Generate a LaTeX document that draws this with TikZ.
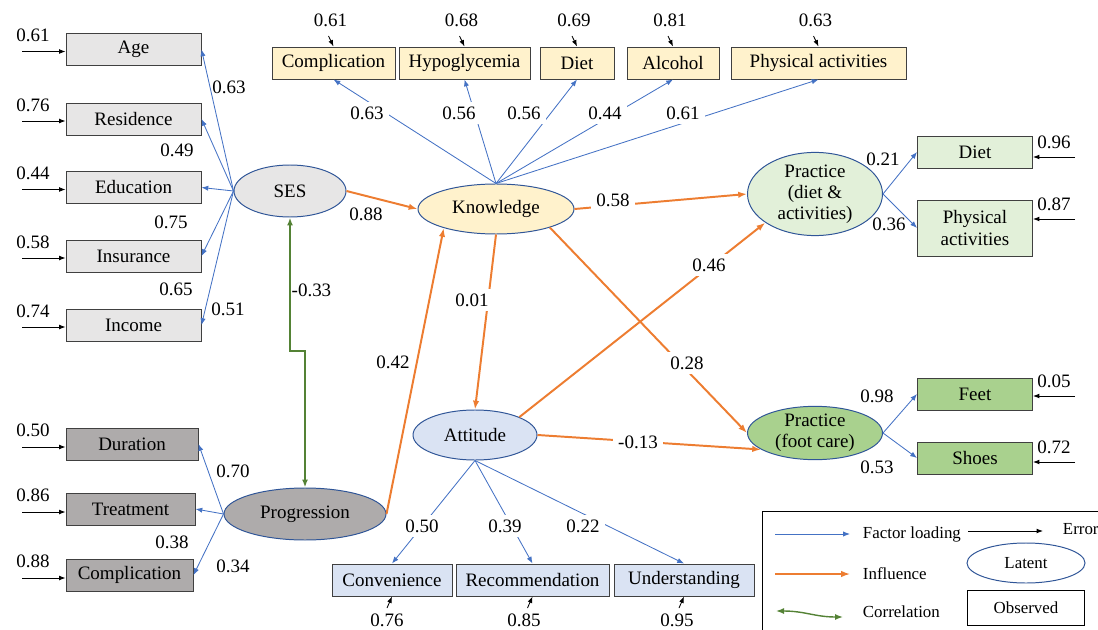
\documentclass[tikz,border=0pt]{standalone}
\usepackage{fontspec}
\setmainfont{Liberation Serif}
\usetikzlibrary{arrows.meta,positioning,shapes.geometric}

\definecolor{sesgray}{HTML}{E7E6E6}
\definecolor{proggray}{HTML}{AEABAB}
\definecolor{knowyellow}{HTML}{FFF2CC}
\definecolor{attblue}{HTML}{DAE3F3}
\definecolor{pdgreen}{HTML}{E2F0D9}
\definecolor{pfgreen}{HTML}{A9D18E}
\definecolor{loadblue}{HTML}{4472C4}
\definecolor{inflorange}{HTML}{ED7D31}
\definecolor{corrgreen}{HTML}{548235}
\definecolor{rimblue}{HTML}{2F5597}
\definecolor{boxrim}{HTML}{404040}

\begin{document}
\begin{tikzpicture}[x=0.025cm, y=-0.025cm,
    font=\fontsize{13.5}{15}\selectfont,
    obs/.style={draw=boxrim, line width=0.7pt, rectangle, inner sep=0pt, align=center, minimum height=0.8cm},
    lat/.style={draw=rimblue, line width=0.7pt, ellipse, inner sep=0pt, align=center},
    load/.style={draw=loadblue, line width=0.6pt, -{Latex[length=1.7mm,width=1.3mm]}},
    infl/.style={draw=inflorange, line width=1.4pt, -{Latex[length=2.2mm,width=1.6mm]}},
    corr/.style={draw=corrgreen, line width=1.4pt, {Latex[length=2mm,width=1.5mm]}-{Latex[length=2mm,width=1.5mm]}},
    err/.style={draw=black, line width=0.6pt, -{Latex[length=1.6mm,width=1.2mm]}},
    coef/.style={inner sep=1pt},
    cut/.style={fill=white, inner sep=3.5pt},
    legend/.style={font=\fontsize{12}{14}\selectfont}]
    % Page size (pixels of the reference)
    \useasboundingbox (0,0) rectangle (1098,630);

    % Latent variables
    \node[lat, fill=sesgray, minimum width=112*0.025cm, minimum height=52*0.025cm] (ses) at (290,191) {SES};
    \node[lat, fill=knowyellow, minimum width=156*0.025cm, minimum height=50*0.025cm] (know) at (496,209) {Knowledge};
    \node[lat, fill=attblue, minimum width=124*0.025cm, minimum height=50*0.025cm] (att) at (475,435) {Attitude};
    \node[lat, fill=proggray, minimum width=162*0.025cm, minimum height=52*0.025cm] (prog) at (305,514) {Progression};
    \node[lat, fill=pdgreen, minimum width=135*0.025cm, minimum height=64*0.025cm] (pd) at (815,194) {Practice\\(diet \&\\activities)};
    \node[lat, fill=pfgreen, minimum width=135*0.025cm, minimum height=44*0.025cm] (pf) at (815,433) {Practice\\(foot care)};

    % SES indicators (left column)
    \foreach \nm/\txt/\yy/\ev in {age/Age/49.5/0.61, res/Residence/119/0.76, edu/Education/187.5/0.44, ins/Insurance/256/0.58, inc/Income/325/0.74} {
        \node[obs, fill=sesgray, minimum width=135*0.025cm] (\nm) at (133.5,\yy) {\txt};
        \coordinate (e-\nm) at (22,\yy+2);
        \draw[err] (e-\nm) -- (e-\nm -| \nm.west);
        \node[coef] at (33,\yy-14) {\ev};
        \draw[load] (ses.west) -- (\nm.east);
    }
    \node[coef] at (229,87) {0.63};
    \node[coef] at (177,150) {0.49};
    \node[coef] at (171,222) {0.75};
    \node[coef] at (176,289) {0.65};
    \node[coef] at (228,309) {0.51};

    % Progression indicators
    \foreach \nm/\txt/\xx/\ww/\yy/\ev in {dur/Duration/132/132/444/0.50, trt/Treatment/130.5/129/509/0.86, pcomp/Complication/129.5/127/575/0.88} {
        \node[obs, fill=proggray, minimum width=\ww*0.025cm] (\nm) at (\xx,\yy) {\txt};
        \coordinate (e-\nm) at (22,\yy+3);
        \draw[err] (e-\nm) -- (e-\nm -| \nm.west);
        \node[coef] at (33,\yy-14) {\ev};
        \draw[load] (prog.west) -- (\nm.east);
    }
    \node[coef] at (233,471) {0.70};
    \node[coef] at (172,542) {0.38};
    \node[coef] at (233,566) {0.34};

    % Knowledge indicators (top row)
    \foreach \nm/\txt/\xx/\ww/\ev in {kcomp/Complication/333.5/123/0.61, hypo/Hypoglycemia/464.5/131/0.68, kdiet/Diet/577/74/0.69, alc/Alcohol/673/92/0.81, kpa/Physical activities/818.5/175/0.63} {
        \node[obs, fill=knowyellow, minimum width=\ww*0.025cm] (\nm) at (\xx,63) {\txt};
        \coordinate (e-\nm) at (\xx-5,36);
        \draw[err] (e-\nm) -- (\nm.north);
        \node[coef] at (\xx-3,20) {\ev};
        \draw[load] (know.north) -- (\nm.south);
    }
    \node[cut] at (367,113) {0.63};
    \node[cut] at (459,113) {0.56};
    \node[cut] at (524,113) {0.56};
    \node[cut] at (605,113) {0.44};
    \node[cut] at (683,113) {0.61};

    % Attitude indicators (bottom row)
    \foreach \nm/\txt/\xx/\ww/\ev/\ex in {conv/Convenience/392/120/0.76/387, rec/Recommendation/532.5/153/0.85/524, und/Understanding/684/140/0.95/677} {
        \node[obs, fill=attblue, minimum width=\ww*0.025cm] (\nm) at (\xx,580) {\txt};
        \coordinate (e-\nm) at (\xx-5,608);
        \draw[err] (e-\nm) -- (\nm.south);
        \node[coef] at (\ex,620) {\ev};
        \draw[load] (att.south) -- (\nm.north);
    }
    \node[cut] at (422,526) {0.50};
    \node[cut] at (505,526) {0.39};
    \node[cut] at (583,526) {0.22};

    % Practice indicators (right column)
    \foreach \nm/\txt/\yy/\hh/\fc/\ev/\ey/\src in {pdiet/Diet/152/32/pdgreen/0.96/157/pd, ppa/{Physical\\activities}/228/56/pdgreen/0.87/219/pd, feet/Feet/394/32/pfgreen/0.05/396/pf, shoe/Shoes/458/32/pfgreen/0.72/462/pf} {
        \node[obs, fill=\fc, minimum width=115*0.025cm, minimum height=\hh*0.025cm] (\nm) at (975,\yy) {\txt};
        \coordinate (e-\nm) at (1075,\ey);
        \draw[err] (e-\nm) -- (e-\nm -| \nm.east);
        \node[coef] at (1054,\ey-15) {\ev};
        \draw[load] (\src.east) -- (\nm.west);
    }
    \node[coef] at (883,159) {0.21};
    \node[coef] at (889,224) {0.36};
    \node[coef] at (877,396) {0.98};
    \node[coef] at (877,467) {0.53};

    % Structural paths
    \draw[infl] (ses.east) -- (know.west);
    \node[coef] at (366,214) {0.88};
    \draw[infl] (know.east) -- (pd.west);
    \node[cut] at (613,200) {0.58};
    \draw[infl] (know.south) -- (att.north);
    \node[cut] at (472,300) {0.01};
    \draw[infl] (know.-19) -- (pf.west);
    \node[cut] at (687,363) {0.28};
    \draw[infl] (att.22) -- (pd.210);
    \node[cut] at (709,265) {0.46};
    \draw[infl] (att.east) -- (pf.197);
    \node[cut] at (638,442) {-0.13};
    \draw[infl] (prog.east) -- (know.200);
    \node[coef] at (393,362) {0.42};

    % Correlation SES <-> Progression
    \coordinate (kink) at (297,351);
    \draw[corr] (ses.south) -- (ses.south |- kink) -- (prog.north |- kink) -- (prog.north);
    \node[coef, anchor=west] at (290,290) {-0.33};

    % Legend
    \draw[line width=0.6pt] (762,511) rectangle (1110,640);
    \coordinate (lg-a1) at (775,534);
    \coordinate (lg-a2) at (850,534);
    \draw[load] (lg-a1) -- (lg-a2);
    \node[legend, anchor=west] (lg-fl) at (858,534) {Factor loading};
    \coordinate (lg-e1) at (968,531);
    \coordinate (lg-e2) at (1043,531);
    \draw[err] (lg-e1) -- (lg-e2);
    \node[legend, anchor=west] (lg-err) at (1058,529) {Error};
    \coordinate (lg-i1) at (775,574);
    \coordinate (lg-i2) at (850,574);
    \draw[infl, line width=1pt] (lg-i1) -- (lg-i2);
    \node[legend, anchor=west] (lg-inf) at (858,574) {Influence};
    \coordinate (lg-c1) at (776,611);
    \coordinate (lg-c2) at (843,617);
    \draw[corr, line width=1pt] (lg-c1) .. controls (805,611) and (815,617) .. (lg-c2);
    \node[legend, anchor=west] (lg-cor) at (858,612) {Correlation};
    \node[lat, legend, minimum width=118*0.025cm, minimum height=40*0.025cm] (lg-lat) at (1026,563) {Latent};
    \node[draw=black, line width=0.8pt, legend, minimum width=117*0.025cm, minimum height=35*0.025cm] (lg-obs) at (1026,608) {Observed};
\end{tikzpicture}
\end{document}
